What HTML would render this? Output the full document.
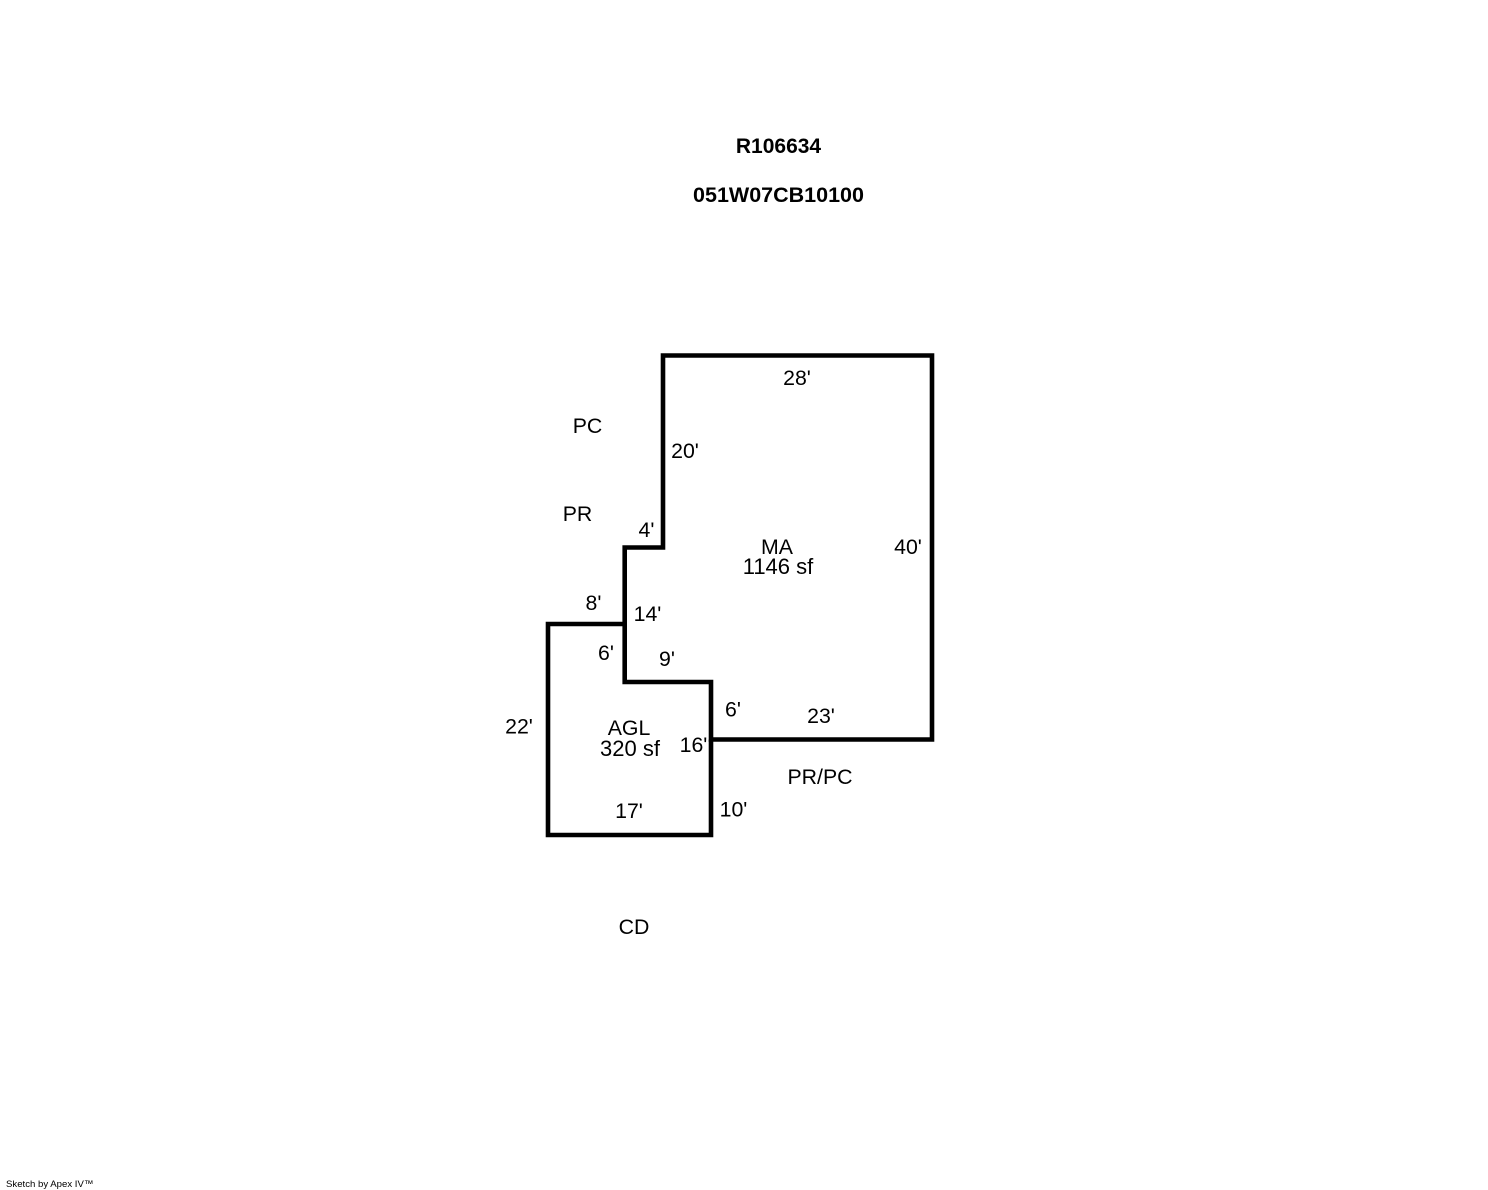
<!DOCTYPE html>
<html>
<head>
<meta charset="utf-8">
<style>
html,body{margin:0;padding:0;background:#fff;width:1488px;height:1190px;overflow:hidden}
svg{display:block}
text{font-family:"Liberation Sans",Arial,sans-serif;font-size:21.3px;fill:#000;text-anchor:middle}
.b{font-weight:bold}
.w{font-size:22px}
</style>
</head>
<body>
<svg width="1488" height="1190" viewBox="0 0 1488 1190" xmlns="http://www.w3.org/2000/svg">
<g fill="none" stroke="#000" stroke-width="4.6" stroke-linejoin="miter">
<path d="M663 355.5H932V739.5H711V682H624.7V547.5H663Z"/>
<path d="M624.7 624H548V835H711V739.5"/>
</g>
<text class="b" x="778.5" y="153" style="font-size:21px">R106634</text>
<text class="b" x="778.5" y="202" style="font-size:21.5px">051W07CB10100</text>
<text x="797" y="385">28'</text>
<text x="587.5" y="433">PC</text>
<text x="685" y="458">20'</text>
<text x="577.5" y="521">PR</text>
<text x="646.5" y="537">4'</text>
<text x="777" y="554">MA</text>
<text class="w" x="778" y="574">1146 sf</text>
<text x="908" y="554">40'</text>
<text x="593.5" y="610">8'</text>
<text x="647.5" y="621">14'</text>
<text x="606" y="660">6'</text>
<text x="667" y="666">9'</text>
<text x="733" y="716.5">6'</text>
<text x="821" y="723">23'</text>
<text x="519" y="733.5">22'</text>
<text x="629" y="735">AGL</text>
<text class="w" x="630" y="756">320 sf</text>
<text x="693.5" y="752">16'</text>
<text x="820" y="784">PR/PC</text>
<text x="733.5" y="816.5">10'</text>
<text x="629" y="818">17'</text>
<text x="634" y="934">CD</text>
<text x="6" y="1187" style="font-size:9.6px;text-anchor:start">Sketch by Apex IV™</text>
</svg>
</body>
</html>
